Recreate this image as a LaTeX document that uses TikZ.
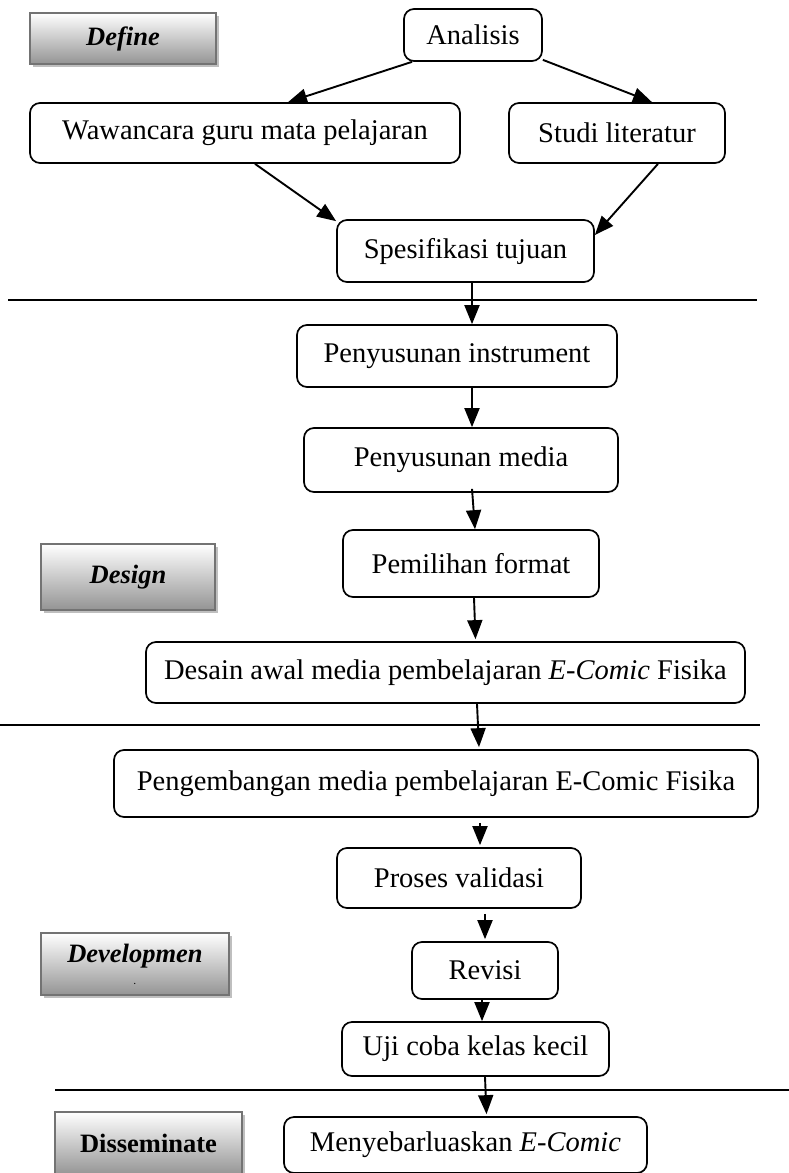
\documentclass[tikz,border=0pt]{standalone}
\usepackage{fontspec}
\setmainfont{Liberation Serif}
\usetikzlibrary{arrows.meta,shadows}
\begin{document}
\begin{tikzpicture}[x=1pt,y=-1pt,
  box/.style={draw, line width=1.7pt, rounded corners=10pt, inner sep=0pt, align=center,
    font=\fontsize{28.5}{31}\selectfont},
  stage/.style={draw=black!55, line width=2.2pt, top color=white, bottom color=black!42,
    inner sep=0pt, align=center, font=\fontsize{26.5}{28}\selectfont\bfseries\itshape,
    drop shadow={shadow xshift=3pt, shadow yshift=-3pt, fill=black!25, opacity=1}},
  arr/.style={line width=1.9pt, -{Triangle[length=19pt,width=15pt]}},
  sep/.style={line width=1.4pt}]
\useasboundingbox (0,0) rectangle (789,1173);

% stage labels
\node[stage, minimum width=186pt, minimum height=51pt] (define) at (123,38.5) {Define};
\node[stage, minimum width=174pt, minimum height=66pt] (design) at (128,577) {Design};
\node[stage, minimum width=188pt, minimum height=62pt] (develop) at (135,964)
  {Developmen\\[-6pt]{\fontsize{8}{8}\selectfont .}};
\node[stage, minimum width=187pt, minimum height=63pt, font=\fontsize{26.5}{28}\selectfont\bfseries] (dissem) at (148.5,1143.5) {Disseminate};

% separators
\coordinate (l1a) at (8,300);   \coordinate (l1b) at (757,300);
\coordinate (l2a) at (0,725);   \coordinate (l2b) at (760,725);
\coordinate (l3a) at (55,1090); \coordinate (l3b) at (789,1090);
\draw[sep] (l1a) -- (l1b);
\draw[sep] (l2a) -- (l2b);
\draw[sep] (l3a) -- (l3b);

% process boxes
\node[box, minimum width=138pt, minimum height=52pt] (analisis) at (473,35) {Analisis};
\node[box, minimum width=430pt, minimum height=60pt] (wawan) at (245,133) {Wawancara guru mata pelajaran};
\node[box, minimum width=216pt, minimum height=60pt] (studi) at (617,133) {Studi literatur};
\node[box, minimum width=257pt, minimum height=62pt] (spes) at (465.5,251) {Spesifikasi tujuan};
\node[box, minimum width=320pt, minimum height=62pt] (instr) at (457,356) {Penyusunan instrument};
\node[box, minimum width=314pt, minimum height=64pt] (media) at (461,460) {Penyusunan media};
\node[box, minimum width=256pt, minimum height=67pt] (format) at (471,563.5) {Pemilihan format};
\node[box, minimum width=599pt, minimum height=61pt] (desain) at (445.5,672.5) {Desain awal media pembelajaran \textit{E-Comic} Fisika};
\node[box, minimum width=644pt, minimum height=67pt] (kembang) at (436,783.5) {Pengembangan media pembelajaran E-Comic Fisika};
\node[box, minimum width=244pt, minimum height=60pt] (proses) at (459,878) {Proses validasi};
\node[box, minimum width=146pt, minimum height=57pt] (revisi) at (485,970.5) {Revisi};
\node[box, minimum width=267pt, minimum height=54pt] (uji) at (475.5,1049) {Uji coba kelas kecil};
\node[box, minimum width=363pt, minimum height=56pt] (sebar) at (465.5,1145) {Menyebarluaskan \textit{E-Comic}};

% connectors
\draw[arr] ([xshift=-61pt]analisis.south) -- ([xshift=43pt]wawan.north);
\draw[arr] ([yshift=2pt]analisis.south east) -- ([xshift=35pt]studi.north);
\draw[arr] ([xshift=10pt]wawan.south) -- ([yshift=-2pt]spes.north west);
\draw[arr] ([xshift=41pt]studi.south) -- ([yshift=16pt]spes.east);
\draw[arr] ([xshift=6.5pt]spes.south) -- ([xshift=15pt]instr.north);
\draw[arr] ([xshift=15pt]instr.south) -- ([xshift=11pt]media.north);
\draw[arr] ([xshift=11pt,yshift=4pt]media.south) -- ([xshift=4pt]format.north);
\draw[arr] ([xshift=3pt]format.south) -- ([xshift=30pt,yshift=2pt]desain.north);
\draw[arr] ([xshift=31.5pt]desain.south) -- ([xshift=43pt,yshift=2pt]kembang.north);
\draw[arr] ([xshift=44pt,yshift=-5pt]kembang.south) -- ([xshift=21pt,yshift=2pt]proses.north);
\draw[arr] ([xshift=26pt,yshift=-5pt]proses.south) -- ([yshift=2pt]revisi.north);
\draw[arr] ([xshift=-3pt]revisi.south) -- ([xshift=6.5pt]uji.north);
\draw[arr] ([xshift=9.5pt]uji.south) -- ([xshift=21pt,yshift=2pt]sebar.north);
\end{tikzpicture}
\end{document}
